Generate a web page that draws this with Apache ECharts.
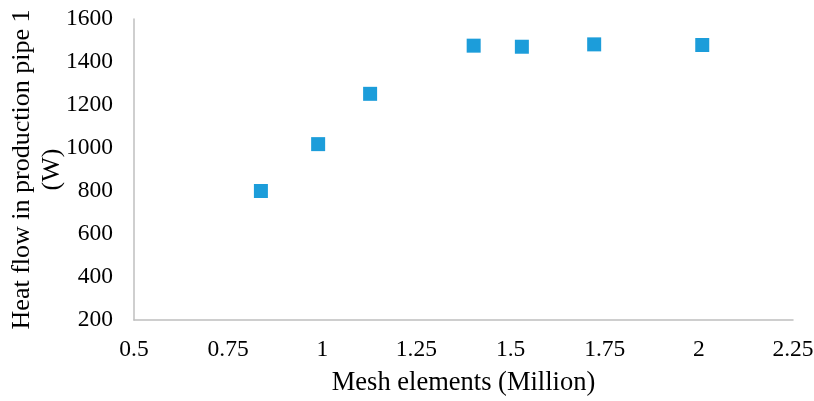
<!DOCTYPE html>
<html>
<head>
<meta charset="utf-8">
<script src="https://cdn.jsdelivr.net/npm/echarts@6/dist/echarts.min.js"></script>
<style>
  html, body { margin: 0; padding: 0; background: #ffffff; }
  #chart { width: 814px; height: 401px; }
</style>
</head>
<body>
<div id="chart"></div>
<script>
// Mesh independence study: heat flow vs. number of mesh elements
const meshElements = [0.837, 0.989, 1.127, 1.402, 1.530, 1.722, 2.009];
const heatFlow = [800, 1018, 1252, 1476, 1471, 1482, 1479];

const xTicks = { min: 0.5, max: 2.25, step: 0.25 };
const yTicks = { min: 200, max: 1600, step: 200 };

const FONT = '"Liberation Serif", "Times New Roman", serif';

const chart = echarts.init(document.getElementById('chart'), null, { renderer: 'canvas' });

chart.setOption({
  backgroundColor: '#ffffff',
  animation: false,
  grid: { left: 134, right: 21, top: 19, bottom: 81, outerBoundsMode: 'none', containLabel: false },
  xAxis: {
    type: 'value',
    min: xTicks.min,
    max: xTicks.max,
    interval: xTicks.step,
    name: 'Mesh elements (Million)',
    nameLocation: 'middle',
    nameGap: 50,
    nameMoveOverlap: false,
    nameTextStyle: { fontFamily: FONT, fontSize: 26.5, color: '#000' },
    axisLine: { show: true, lineStyle: { color: '#bfbfbf', width: 1.5 } },
    axisTick: { show: false },
    splitLine: { show: false },
    axisLabel: { fontFamily: FONT, fontSize: 23.5, color: '#000', margin: 18,
                 formatter: v => String(v) }
  },
  yAxis: {
    type: 'value',
    min: yTicks.min,
    max: yTicks.max,
    interval: yTicks.step,
    name: 'Heat flow in production pipe 1\n(W)',
    nameLocation: 'middle',
    nameGap: 67,
    nameMoveOverlap: false,
    nameTextStyle: { fontFamily: FONT, fontSize: 26, color: '#000', lineHeight: 30 },
    axisLine: { show: true, lineStyle: { color: '#bfbfbf', width: 1.5 } },
    axisTick: { show: false },
    splitLine: { show: false },
    axisLabel: { fontFamily: FONT, fontSize: 23.5, color: '#000', margin: 21,
                 formatter: v => String(v) }
  },
  series: [{
    type: 'scatter',
    data: meshElements.map((x, i) => [x, heatFlow[i]]),
    symbol: 'rect',
    symbolSize: 14,
    itemStyle: { color: '#1c9dda', opacity: 1 }
  }]
});
</script>
</body>
</html>
